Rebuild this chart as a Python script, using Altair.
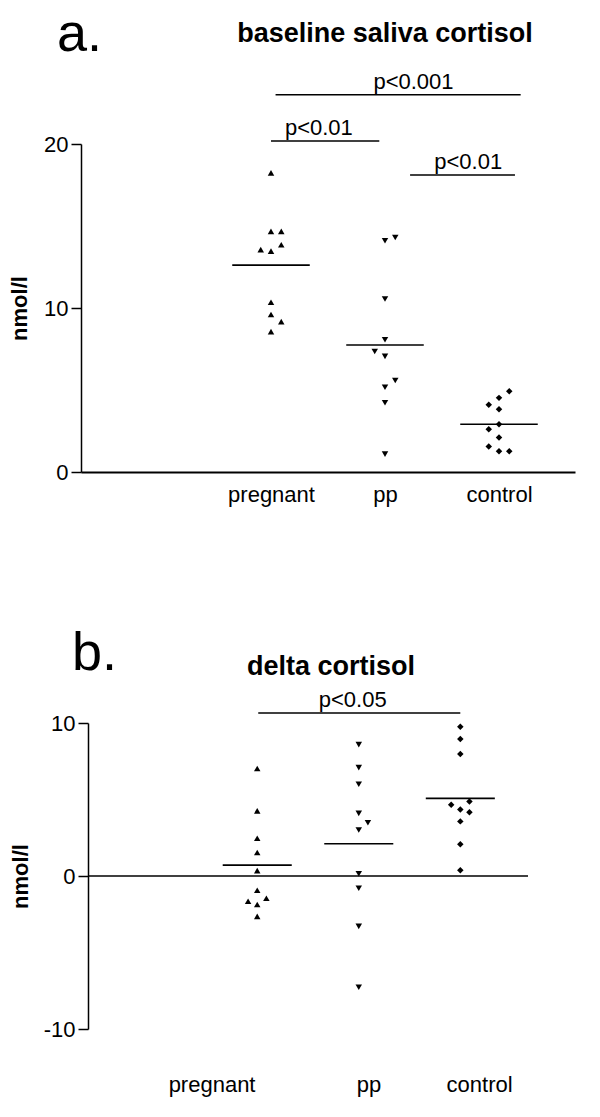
import altair as alt
import pandas as pd

groups = ["pregnant", "pp", "control"]

# ---- panel a: baseline saliva cortisol (nmol/l) ----
a_pregnant = [18.24, 14.67, 14.67, 13.86, 13.56, 13.47, 10.35, 9.60, 9.17, 8.56]
a_pregnant_col = [0, 0, 1, 1, -1, 0, 0, 0, 1, 0]
a_pp = [14.30, 14.10, 10.55, 8.06, 7.35, 7.05, 5.58, 5.17, 4.22, 1.09]
a_pp_col = [1, 0, 0, 0, -1, 0, 1, 0, 0, 0]
a_control = [4.93, 4.52, 4.10, 3.82, 2.91, 2.61, 2.10, 1.56, 1.27, 1.27]
a_control_col = [1, 0, -1, 0, 0, -1, 0, -1, 0, 1]

a_sig_text = ["p<0.001", "p<0.01", "p<0.01"]
a_sig_x1 = [1.04, 1.00, 2.22]
a_sig_x2 = [3.19, 1.95, 3.14]
a_sig_y = [23.0, 20.18, 18.11]
a_sig_text_x = [2.25, 1.42, 2.73]

# ---- panel b: delta cortisol (nmol/l) ----
b_pregnant = [7.03, 4.26, 2.47, 1.54, 0.35, -0.93, -1.45, -1.65, -1.86, -2.64]
b_pregnant_col = [0, 0, 0, 0, 0, 0, 1, -1, 0, 0]
b_pp = [8.59, 7.08, 6.00, 4.09, 3.48, 3.01, 0.15, -0.80, -3.29, -7.27]
b_pp_col = [0, 0, 0, 0, 1, 0, 0, 0, 0, 0]
b_control = [9.76, 8.96, 7.97, 4.87, 4.65, 4.35, 4.16, 3.57, 2.08, 0.37]
b_control_col = [0, 0, 0, 1, -1, 0, 1, 0, 0, 0]

b_sig_text = ["p<0.05"]
b_sig_x1 = [1.01]
b_sig_x2 = [3.00]
b_sig_y = [10.65]
b_sig_text_x = [1.94]

b_label_x = [0.555, 2.10, 3.19]
b_label_y = -13.68

FONT = "Liberation Sans"
JIT = 0.09
HALF = 0.34
X_LO, X_HI = -2 / 3, 11 / 3


def points_df(vals_list, cols_list):
    rows = []
    for gi, (vals, cols) in enumerate(zip(vals_list, cols_list), start=1):
        for v, c in zip(vals, cols):
            rows.append({"group": groups[gi - 1], "gi": gi, "col": c, "value": v})
    return pd.DataFrame(rows)


shape_scale = alt.Scale(domain=groups, range=["triangle-up", "triangle-down", "diamond"])


def make_panel(df, sig, xscale, yscale, xaxis, yaxis, width, height, letter, title, letter_pos, title_pos, extra=None):
    def X(f):
        return alt.X(f, type="quantitative", scale=xscale, axis=xaxis)

    def Y(f):
        return alt.Y(f, type="quantitative", scale=yscale, axis=yaxis)

    pts = alt.Chart(df).transform_calculate(xp=f"datum.gi + datum.col * {JIT}").mark_point(
        filled=True, size=42, color="black", opacity=1
    ).encode(
        x=X("xp"), y=Y("value"),
        shape=alt.Shape("group:N", scale=shape_scale, legend=None),
    )
    means = alt.Chart(df).transform_aggregate(
        mean="mean(value)", groupby=["gi"]
    ).transform_calculate(
        x1=f"datum.gi - {HALF}", x2=f"datum.gi + {HALF}"
    ).mark_rule(color="black", strokeWidth=1.6).encode(
        x=X("x1"), x2="x2:Q", y=Y("mean")
    )
    sig_df = pd.DataFrame(sig)
    bars = alt.Chart(sig_df).mark_rule(color="black", strokeWidth=1.6).encode(
        x=X("x1"), x2="x2:Q", y=Y("y")
    )
    sig_txt = alt.Chart(sig_df).mark_text(
        fontSize=22, font=FONT, color="black", baseline="middle", dy=-13
    ).encode(x=X("tx"), y=Y("y"), text="label:N")
    head_df = pd.DataFrame({
        "label": [letter, title],
        "x": [letter_pos[0], title_pos[0]],
        "y": [letter_pos[1], title_pos[1]],
    })
    let_txt = alt.Chart(head_df.iloc[[0]]).mark_text(
        fontSize=54, font=FONT, color="black", align="left", baseline="alphabetic"
    ).encode(x=X("x"), y=Y("y"), text="label:N")
    tit_txt = alt.Chart(head_df.iloc[[1]]).mark_text(
        fontSize=27, font=FONT, fontWeight="bold", color="black", align="center", baseline="alphabetic"
    ).encode(x=X("x"), y=Y("y"), text="label:N")
    layers = [pts, means, bars, sig_txt, let_txt, tit_txt]
    if extra is not None:
        layers += extra(X, Y)
    return alt.layer(*layers).properties(width=width, height=height)


HYPHEN = "replace(datum.label, '\u2212', '-')"

# panel a
df_a = points_df([a_pregnant, a_pp, a_control], [a_pregnant_col, a_pp_col, a_control_col])
sig_a = {"label": a_sig_text, "x1": a_sig_x1, "x2": a_sig_x2, "y": a_sig_y, "tx": a_sig_text_x}
xs_a = alt.Scale(domain=[X_LO, X_HI], nice=False, zero=False)
ys_a = alt.Scale(domain=[0, 20], nice=False, zero=False)
xax_a = alt.Axis(
    values=[1, 2, 3], labelExpr="['', 'pregnant', 'pp', 'control'][datum.value]",
    ticks=False, grid=False, title=None, domainColor="black", domainWidth=2,
    labelFontSize=22, labelFont=FONT, labelColor="black", labelPadding=12,
)
yax_a = alt.Axis(
    values=[0, 10, 20], grid=False, title="nmol/l", titleFontSize=22, titleFontWeight="bold",
    titleFont=FONT, titleColor="black", titlePadding=12, tickSize=10, tickWidth=1.5,
    tickColor="black", domainColor="black", domainWidth=1.5, labelFontSize=22,
    labelFont=FONT, labelColor="black", labelPadding=3, labelExpr=HYPHEN,
)
panel_a = make_panel(
    df_a, sig_a, xs_a, ys_a, xax_a, yax_a, 494, 328,
    "a.", "baseline saliva cortisol", (-0.877, 25.66), (2.0, 26.22),
)

# panel b
df_b = points_df([b_pregnant, b_pp, b_control], [b_pregnant_col, b_pp_col, b_control_col])
sig_b = {"label": b_sig_text, "x1": b_sig_x1, "x2": b_sig_x2, "y": b_sig_y, "tx": b_sig_text_x}
xs_b = alt.Scale(domain=[X_LO - 7 / 101.5, X_HI], nice=False, zero=False)
ys_b = alt.Scale(domain=[-10, 10], nice=False, zero=False)
yax_b = alt.Axis(
    values=[-10, 0, 10], grid=False, title="nmol/l", titleFontSize=22, titleFontWeight="bold",
    titleFont=FONT, titleColor="black", titlePadding=11, tickSize=10, tickWidth=1.5,
    tickColor="black", domainColor="black", domainWidth=1.5, labelFontSize=22,
    labelFont=FONT, labelColor="black", labelPadding=3, offset=-7, labelExpr=HYPHEN,
)


def extra_b(X, Y):
    zero_df = pd.DataFrame({"x1": [X_LO], "x2": [X_HI], "y": [0.0]})
    zero = alt.Chart(zero_df).mark_rule(color="black", strokeWidth=1.6).encode(
        x=X("x1"), x2="x2:Q", y=Y("y")
    )
    lab_df = pd.DataFrame({"label": groups, "x": b_label_x, "y": [b_label_y] * 3})
    labs = alt.Chart(lab_df).mark_text(
        fontSize=22, font=FONT, color="black", baseline="middle"
    ).encode(x=X("x"), y=Y("y"), text="label:N")
    return [zero, labs]


panel_b = make_panel(
    df_b, sig_b, xs_b, ys_b, None, yax_b, 447, 306,
    "b.", "delta cortisol", (-0.824, 13.48), (1.727, 13.15), extra=extra_b,
)

chart = alt.vconcat(panel_a, panel_b, spacing=121).properties(
    padding={"left": 0, "top": 0, "right": 5, "bottom": 5}
).configure_view(strokeWidth=0).configure_axis(labelFont=FONT, titleFont=FONT)

chart.save("out.html", embed_options={"renderer": "svg", "actions": False})
